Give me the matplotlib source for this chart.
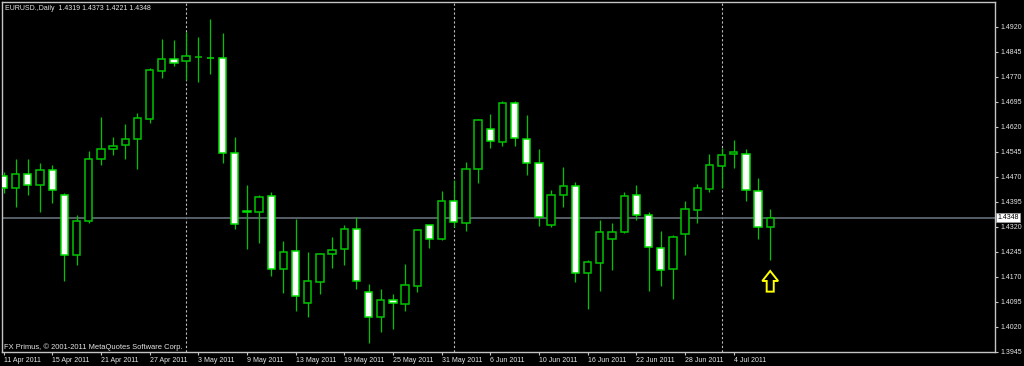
import matplotlib
matplotlib.use("Agg")
import matplotlib.pyplot as plt
from matplotlib.patches import Polygon
from matplotlib.transforms import blended_transform_factory
import numpy as np

# ---------------- data ----------------
dates = ["11 Apr", "12 Apr", "13 Apr", "14 Apr", "15 Apr",
         "18 Apr", "19 Apr", "20 Apr", "21 Apr", "22 Apr",
         "25 Apr", "26 Apr", "27 Apr", "28 Apr", "29 Apr",
         "2 May", "3 May", "4 May", "5 May", "6 May",
         "9 May", "10 May", "11 May", "12 May", "13 May",
         "16 May", "17 May", "18 May", "19 May", "20 May",
         "23 May", "24 May", "25 May", "26 May", "27 May",
         "30 May", "31 May", "1 Jun", "2 Jun", "3 Jun",
         "6 Jun", "7 Jun", "8 Jun", "9 Jun", "10 Jun",
         "13 Jun", "14 Jun", "15 Jun", "16 Jun", "17 Jun",
         "20 Jun", "21 Jun", "22 Jun", "23 Jun", "24 Jun",
         "27 Jun", "28 Jun", "29 Jun", "30 Jun", "1 Jul",
         "4 Jul", "5 Jul", "6 Jul", "7 Jul"]

opens = [1.4474, 1.4436, 1.4479, 1.4445, 1.4490,
         1.4415, 1.4236, 1.4337, 1.4524, 1.4554,
         1.4565, 1.4583, 1.4645, 1.4789, 1.4824,
         1.4817, 1.4829, 1.4828, 1.4828, 1.4543,
         1.4367, 1.4366, 1.4412, 1.4195, 1.4248,
         1.4091, 1.4156, 1.4238, 1.4253, 1.4314,
         1.4126, 1.4051, 1.4101, 1.4089, 1.4144,
         1.4325, 1.4283, 1.4399, 1.4332, 1.4494,
         1.4614, 1.4576, 1.4691, 1.4584, 1.4513,
         1.4327, 1.4415, 1.4442, 1.4181, 1.4213,
         1.4283, 1.4306, 1.4415, 1.4357, 1.4257,
         1.4194, 1.4300, 1.4370, 1.4434, 1.4503,
         1.4538, 1.4540, 1.4428, 1.4319]

highs = [1.4484, 1.4523, 1.4523, 1.4511, 1.4507,
         1.4422, 1.4355, 1.4548, 1.4651, 1.4591,
         1.4630, 1.4661, 1.4796, 1.4884, 1.4880,
         1.4906, 1.4891, 1.4944, 1.4901, 1.4590,
         1.4446, 1.4416, 1.4425, 1.4278, 1.4343,
         1.4246, 1.4243, 1.4290, 1.4326, 1.4349,
         1.4149, 1.4134, 1.4120, 1.4209, 1.4314,
         1.4325, 1.4428, 1.4460, 1.4515, 1.4644,
         1.4660, 1.4699, 1.4698, 1.4656, 1.4553,
         1.4431, 1.4500, 1.4455, 1.4221, 1.4341,
         1.4331, 1.4425, 1.4446, 1.4364, 1.4308,
         1.4296, 1.4399, 1.4450, 1.4539, 1.4557,
         1.4581, 1.4554, 1.4468, 1.4373]

lows = [1.4421, 1.4379, 1.4415, 1.4366, 1.4391,
        1.4159, 1.4205, 1.4331, 1.4505, 1.4537,
        1.4525, 1.4493, 1.4633, 1.4768, 1.4804,
        1.4761, 1.4755, 1.4778, 1.4513, 1.4315,
        1.4255, 1.4271, 1.4174, 1.4123, 1.4068,
        1.4051, 1.4120, 1.4196, 1.4207, 1.4135,
        1.3971, 1.4004, 1.4014, 1.4068, 1.4125,
        1.4258, 1.4281, 1.4319, 1.4309, 1.4453,
        1.4558, 1.4564, 1.4564, 1.4477, 1.4323,
        1.4321, 1.4379, 1.4156, 1.4074, 1.4128,
        1.4191, 1.4303, 1.4341, 1.4128, 1.4143,
        1.4103, 1.4236, 1.4331, 1.4426, 1.4436,
        1.4496, 1.4397, 1.4284, 1.4221]

closes = [1.4438, 1.4479, 1.4445, 1.4490, 1.4430,
          1.4236, 1.4337, 1.4525, 1.4555, 1.4564,
          1.4585, 1.4646, 1.4790, 1.4824, 1.4811,
          1.4834, 1.4830, 1.4827, 1.4543, 1.4328,
          1.4365, 1.4410, 1.4193, 1.4246, 1.4113,
          1.4159, 1.4238, 1.4250, 1.4314, 1.4159,
          1.4049, 1.4101, 1.4091, 1.4145, 1.4312,
          1.4283, 1.4399, 1.4334, 1.4493, 1.4640,
          1.4579, 1.4691, 1.4586, 1.4513, 1.4349,
          1.4415, 1.4442, 1.4181, 1.4214, 1.4304,
          1.4305, 1.4412, 1.4357, 1.4259, 1.4190,
          1.4289, 1.4373, 1.4438, 1.4505, 1.4535,
          1.4544, 1.4430, 1.4320, 1.4348]

year = "2011"
price_ticks = [1.3945, 1.4020, 1.4095, 1.4170, 1.4245, 1.4320, 1.4395,
               1.4470, 1.4545, 1.4620, 1.4695, 1.4770, 1.4845, 1.4920]
month_starts = ["2 May", "1 Jun", "1 Jul"]
header = "EURUSD.,Daily  1.4319 1.4373 1.4221 1.4348"
copyright_text = "FX Primus, \u00a9 2001-2011 MetaQuotes Software Corp."
bid_price = 1.4348
arrow_bar = "7 Jul"
arrow_tip_price = 1.4188

# ---------------- style ----------------
GREEN = "#00c400"
LIME = "#00e000"
FRAME = "#c4c4c4"
TXT = "#e6e6e6"
FONT = "Liberation Sans"

W, H = 1024, 366
fig = plt.figure(figsize=(W / 100, H / 100), dpi=100, facecolor="black")
left_px, right_px, top_px, bot_px = 2, 995, 2, 352
ax = fig.add_axes([left_px / W, 1 - bot_px / H,
                   (right_px - left_px) / W, (bot_px - top_px) / H])
ax.set_facecolor("black")

x = np.arange(len(dates))
o = np.array(opens); c = np.array(closes)
h = np.array(highs); l = np.array(lows)

# wicks
ax.vlines(x, l, h, color=GREEN, linewidth=0.9, zorder=2)
# bodies
bull = c >= o
bottoms = np.minimum(o, c)
heights = np.abs(c - o)
ax.bar(x[bull], heights[bull], bottom=bottoms[bull], width=0.6,
       color="black", edgecolor=GREEN, linewidth=1.1, zorder=3)
ax.bar(x[~bull], heights[~bull], bottom=bottoms[~bull], width=0.6,
       color="white", edgecolor=LIME, linewidth=1.1, zorder=3)

# month separators
for m in month_starts:
    ax.axvline(dates.index(m), color="#bdbdbd", linewidth=0.8,
               linestyle=(0, (2, 2)), zorder=1)

# bid line
ax.axhline(bid_price, color="#5c6670", linewidth=1.3, zorder=1)

# arrow (outline up-arrow)
ab = dates.index(arrow_bar)
hw, sw = 0.65, 0.29           # half widths (bars)
hh, total = 0.0030, 0.0062    # head height, total height (price)
pts = [(ab, arrow_tip_price),
       (ab + hw, arrow_tip_price - hh),
       (ab + sw, arrow_tip_price - hh),
       (ab + sw, arrow_tip_price - total),
       (ab - sw, arrow_tip_price - total),
       (ab - sw, arrow_tip_price - hh),
       (ab - hw, arrow_tip_price - hh)]
ax.add_patch(Polygon(pts, closed=True, facecolor="none",
                     edgecolor="#ffff00", linewidth=1.4, zorder=5))

# limits
spacing = 12.17
x0_px = 3.5
ax.set_xlim((left_px - x0_px) / spacing, (right_px - x0_px) / spacing)
ax.set_ylim(1.39449, 1.49950)

# x ticks every 4 bars
xt = x[::4]
ax.set_xticks(xt)
ax.set_xticklabels([f"{dates[i]} {year}" for i in xt], fontsize=5,
                   family=FONT, color=TXT, ha="left")
ax.tick_params(axis="x", colors=FRAME, length=2.5, width=0.8, pad=1.4,
               labelcolor=TXT)

# y ticks on right
ax.yaxis.tick_right()
ax.set_yticks(price_ticks)
ax.set_yticklabels([f"{p:.4f}" for p in price_ticks], fontsize=5,
                   family=FONT, color=TXT)
ax.tick_params(axis="y", colors=FRAME, length=2.5, width=0.8, pad=1.5,
               labelcolor=TXT)

for s in ax.spines.values():
    s.set_color(FRAME)
    s.set_linewidth(1.0)

# bid price label
tr = blended_transform_factory(ax.transAxes, ax.transData)
ax.text(1.0025, bid_price, f"{bid_price:.4f}", transform=tr, fontsize=5,
        family=FONT, color="black", ha="left", va="center", zorder=10,
        bbox=dict(boxstyle="square,pad=0.15", facecolor="white",
                  edgecolor="#9a9a9a", linewidth=0.6), clip_on=False)

# header / copyright
fig.text(5 / W, 1 - 8 / H, header, fontsize=5, family=FONT, color=TXT,
         ha="left", va="center")
ax.text(0.002, 0.015, copyright_text, transform=ax.transAxes, fontsize=5.4,
        family=FONT, color=TXT, ha="left", va="center")

fig.savefig("out.png", dpi=100, facecolor="black")
